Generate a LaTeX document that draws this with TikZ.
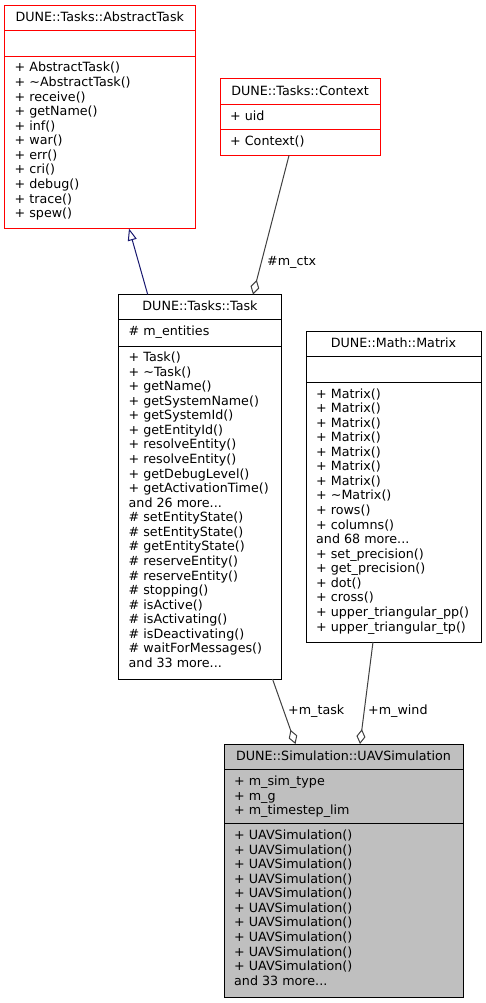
\documentclass[tikz,border=0pt]{standalone}
\usepackage{fontspec}
\setmainfont{DejaVu Sans}
\usepackage{tikz}
\usetikzlibrary{arrows.meta, positioning}
\definecolor{inhblue}{HTML}{191970}
\definecolor{edgegray}{HTML}{404040}
\definecolor{uavgray}{HTML}{BFBFBF}
\newcommand{\memberfont}{\fontsize{12.7}{14.6}\selectfont}
\newcommand{\moredots}{...}
\tikzset{
  classhead/.style={draw, line width=1pt, anchor=north west, inner sep=0pt, outer sep=0pt, text height=9pt, text depth=2pt, font=\memberfont},
  classpart/.style={draw, line width=1pt, inner sep=0pt, outer sep=0pt},
  member/.style={anchor=base west, inner sep=0pt, font=\memberfont},
  inherit/.style={draw=inhblue, line width=1pt, -{Triangle[open, length=12pt, width=9pt]}},
  compose/.style={draw=edgegray, line width=1pt, -{Diamond[open, length=15pt, width=9pt]}}
}

\begin{document}
\begin{tikzpicture}[x=1pt, y=1pt]
\fill[white] (0,0) rectangle (485,-1003);

% DUNE::Tasks::AbstractTask
\node[classhead, draw=red, minimum width=190.5pt, minimum height=25.5pt] (abshead) at (4.5,-5.5) {DUNE::Tasks::AbstractTask};
\node[classpart, draw=red, below=0pt of abshead, minimum width=190.5pt, minimum height=25.5pt] (absattr) {};
\node[classpart, draw=red, below=0pt of absattr, minimum width=190.5pt, minimum height=172pt] (absops) {};
\foreach \m [count=\i from 0] in {+ AbstractTask(), + \textasciitilde AbstractTask(), + receive(), + getName(), + inf(), + war(), + err(), + cri(), + debug(), + trace(), + spew()}
{
    \node[member] (absop\i) at ([xshift=10pt, yshift=-15.5pt-\i*14.57pt]absops.north west) {\m};
};

% DUNE::Tasks::Context
\node[classhead, draw=red, minimum width=160pt, minimum height=25.5pt] (ctxhead) at (220,-79) {DUNE::Tasks::Context};
\node[classpart, draw=red, below=0pt of ctxhead, minimum width=160pt, minimum height=25.5pt] (ctxattr) {};
\node[classpart, draw=red, below=0pt of ctxattr, minimum width=160pt, minimum height=25.5pt] (ctxops) {};
\node[member] (ctxattr0) at ([xshift=10pt, yshift=-16pt]ctxattr.north west) {+ uid};
\node[member] (ctxop0) at ([xshift=10pt, yshift=-16pt]ctxops.north west) {+ Context()};

% DUNE::Tasks::Task
\node[classhead, minimum width=163pt, minimum height=25pt] (taskhead) at (118.5,-294.5) {DUNE::Tasks::Task};
\node[classpart, below=0pt of taskhead, minimum width=163pt, minimum height=26.5pt] (taskattr) {};
\node[classpart, below=0pt of taskattr, minimum width=163pt, minimum height=333pt] (taskops) {};
\node[member] (taskattr0) at ([xshift=10pt, yshift=-16pt]taskattr.north west) {\# m\_entities};
\foreach \m [count=\i from 0] in {+ Task(), + \textasciitilde Task(), + getName(), + getSystemName(), + getSystemId(), + getEntityId(), + resolveEntity(), + resolveEntity(), + getDebugLevel(), + getActivationTime(), and 26 more\moredots, \# setEntityState(), \# setEntityState(), \# getEntityState(), \# reserveEntity(), \# reserveEntity(), \# stopping(), \# isActive(), \# isActivating(), \# isDeactivating(), \# waitForMessages(), and 33 more\moredots}
{
    \node[member] (taskop\i) at ([xshift=10pt, yshift=-15.5pt-\i*14.57pt]taskops.north west) {\m};
};

% DUNE::Math::Matrix
\node[classhead, minimum width=175pt, minimum height=25.5pt] (mathead) at (306,-331) {DUNE::Math::Matrix};
\node[classpart, below=0pt of mathead, minimum width=175pt, minimum height=25.5pt] (matattr) {};
\node[classpart, below=0pt of matattr, minimum width=175pt, minimum height=260pt] (matops) {};
\foreach \m [count=\i from 0] in {+ Matrix(), + Matrix(), + Matrix(), + Matrix(), + Matrix(), + Matrix(), + Matrix(), + \textasciitilde Matrix(), + rows(), + columns(), and 68 more\moredots, + set\_precision(), + get\_precision(), + dot(), + cross(), + upper\_triangular\_pp(), + upper\_triangular\_tp()}
{
    \node[member] (matop\i) at ([xshift=10pt, yshift=-16pt-\i*14.57pt]matops.north west) {\m};
};

% DUNE::Simulation::UAVSimulation
\node[classhead, fill=uavgray, minimum width=239pt, minimum height=25.5pt] (uavhead) at (224,-744) {DUNE::Simulation::UAVSimulation};
\node[classpart, fill=uavgray, below=0pt of uavhead, minimum width=239pt, minimum height=53.5pt] (uavattr) {};
\node[classpart, fill=uavgray, below=0pt of uavattr, minimum width=239pt, minimum height=174pt] (uavops) {};
\foreach \m [count=\i from 0] in {+ m\_sim\_type, + m\_g, + m\_timestep\_lim}
{
    \node[member] (uavattr\i) at ([xshift=10pt, yshift=-16.2pt-\i*14.57pt]uavattr.north west) {\m};
};
\foreach \m [count=\i from 0] in {+ UAVSimulation(), + UAVSimulation(), + UAVSimulation(), + UAVSimulation(), + UAVSimulation(), + UAVSimulation(), + UAVSimulation(), + UAVSimulation(), + UAVSimulation(), + UAVSimulation(), and 33 more\moredots}
{
    \node[member] (uavop\i) at ([xshift=10pt, yshift=-16.5pt-\i*14.57pt]uavops.north west) {\m};
};

% relations
\draw[inherit] ([xshift=29.2pt]taskhead.north west) -- ([xshift=124.5pt]absops.south west);
\draw[compose] ([xshift=69pt]ctxops.south west) -- ([xshift=134.5pt]taskhead.north west);
\draw[compose] ([xshift=154pt]taskops.south west) -- ([xshift=71.5pt]uavhead.north west);
\draw[compose] ([xshift=67pt]matops.south west) -- ([xshift=136pt]uavhead.north west);

\node[member] (lctx) at (267,-265) {\#m\_ctx};
\node[member] (ltask) at (288,-714.3) {+m\_task};
\node[member] (lwind) at (368,-714.3) {+m\_wind};
\end{tikzpicture}
\end{document}
